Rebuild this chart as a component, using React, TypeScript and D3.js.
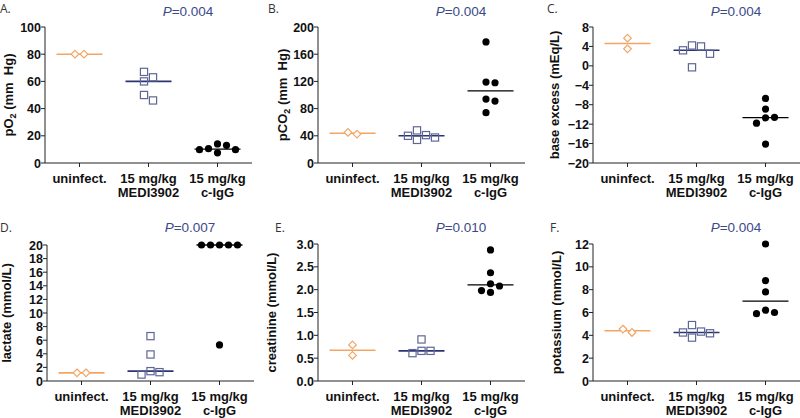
import React from "react";
import * as d3 from "d3";

// group labels (two lines under each column)
const groupLine1 = ["uninfect.", "15 mg/kg", "15 mg/kg"];
const groupLine2 = ["", "MEDI3902", "c-IgG"];

// A. pO2 (mm Hg)
const po2Uninf = [80, 80];
const po2Medi = [63, 46, 60, 50, 67];
const po2Cigg = [13, 9.8, 7.5, 9.8, 10.5, 14];
const po2Ticks = [0, 20, 40, 60, 80, 100];

// B. pCO2 (mm Hg)
const pco2Uninf = [42.5, 45];
const pco2Medi = [48, 40, 34, 37.5, 41];
const pco2Cigg = [118, 94, 178, 74, 119, 91];
const pco2Ticks = [0, 40, 80, 120, 160, 200];

// C. base excess (mEq/L)
const beUninf = [3.5, 5.7];
const beMedi = [4.2, 3.2, -0.3, 2.5, 4.0];
const beCigg = [-10.7, -6.7, -8.9, -11.8, -16.1, -10.6];
const beTicks = [-20, -16, -12, -8, -4, 0, 4, 8];

// D. lactate (mmol/L)
const lacUninf = [1.2, 1.2];
const lacMedi = [1.45, 0.95, 3.9, 6.6, 1.3];
const lacCigg = [20, 20, 20, 20, 20, 5.3];
const lacTicks = [0, 2, 4, 6, 8, 10, 12, 14, 16, 18, 20];

// E. creatinine (mmol/L)
const creUninf = [0.79, 0.56];
const creMedi = [0.66, 0.91, 0.61, 0.66];
const creCigg = [2.08, 2.87, 2.37, 1.94, 1.98, 2.13];
const creTicks = [0, 0.5, 1, 1.5, 2, 2.5, 3];

// F. potassium (mmol/L)
const kUninf = [4.25, 4.55];
const kMedi = [4.25, 3.8, 4.9, 4.18, 4.33];
const kCigg = [6.2, 12, 8.8, 7.8, 5.9, 6.0];
const kTicks = [0, 2, 4, 6, 8, 10, 12];

const pValues = ["0.004", "0.004", "0.004", "0.007", "0.010", "0.004"];

const FONT = "'Liberation Sans', Arial, sans-serif";
const ORANGE = "#f2a565";
const SQUARE = "#5f6796";
const NAVY = "#2c3474";
const PBLUE = "#3b4a8a";

const panels = [
  { letter: "A.", title: ["pO", "2", " (mm  Hg)"], groups: [po2Uninf, po2Medi, po2Cigg], ticks: po2Ticks, fmt: d3.format("d"), p: pValues[0],
    x0: 45, top: 27, bottom: 163, titleX: 13, letterX: 0, letterY: 13, pY: 16 },
  { letter: "B.", title: ["pCO", "2", " (mm  Hg)"], groups: [pco2Uninf, pco2Medi, pco2Cigg], ticks: pco2Ticks, fmt: d3.format("d"), p: pValues[1],
    x0: 318, top: 27, bottom: 163, titleX: 287, letterX: 268, letterY: 13, pY: 16 },
  { letter: "C.", title: ["base excess (mEq/L)"], groups: [beUninf, beMedi, beCigg], ticks: beTicks, fmt: d3.format("d"), p: pValues[2],
    x0: 593, top: 27, bottom: 163, titleX: 559, letterX: 547, letterY: 13, pY: 16 },
  { letter: "D.", title: ["lactate (mmol/L)"], groups: [lacUninf, lacMedi, lacCigg], ticks: lacTicks, fmt: d3.format("d"), p: pValues[3],
    x0: 47, top: 245, bottom: 381, titleX: 11, letterX: 0, letterY: 232, pY: 232 },
  { letter: "E.", title: ["creatinine (mmol/L)"], groups: [creUninf, creMedi, creCigg], ticks: creTicks, fmt: d3.format(".1f"), p: pValues[4],
    x0: 318, top: 244, bottom: 381, titleX: 276, letterX: 275, letterY: 232, pY: 232 },
  { letter: "F.", title: ["potassium (mmol/L)"], groups: [kUninf, kMedi, kCigg], ticks: kTicks, fmt: d3.format("d"), p: pValues[5],
    x0: 593, top: 244, bottom: 381, titleX: 561, letterX: 550, letterY: 232, pY: 232 },
];

const WIDTH = 207;
const STEP = 9;
const MIN_DIST = 8.5;

// simple beeswarm: highest values first, each point takes the nearest free slot
function swarm(values: number[], y: (v: number) => number) {
  const order = values.map((v, i) => i).sort((a, b) => values[b] - values[a]);
  const placed: { i: number; dx: number; py: number }[] = [];
  for (const i of order) {
    const py = y(values[i]);
    for (let k = 0; k < 20; k++) {
      const dx = k === 0 ? 0 : (k % 2 ? 1 : -1) * Math.ceil(k / 2) * STEP;
      const hit = placed.some((p) => Math.hypot(p.dx - dx, p.py - py) < MIN_DIST);
      if (!hit) {
        placed.push({ i, dx, py });
        break;
      }
    }
  }
  const lo = d3.min(placed, (p) => p.dx) ?? 0;
  const hi = d3.max(placed, (p) => p.dx) ?? 0;
  const shift = (lo + hi) / 2;
  return placed.map((p) => ({ dx: p.dx - shift, py: p.py }));
}

const Marker = ({ kind, x, y }: { kind: number; x: number; y: number }) => {
  if (kind === 0) {
    const r = 3.8;
    return (
      <path d={`M${x},${y - r}L${x + r},${y}L${x},${y + r}L${x - r},${y}Z`}
        fill="#fff" stroke={ORANGE} strokeWidth={1.2} />
    );
  }
  if (kind === 1) {
    return <rect x={x - 3.6} y={y - 3.6} width={7.2} height={7.2} fill="none" stroke={SQUARE} strokeWidth={1.2} />;
  }
  return <circle cx={x} cy={y} r={3.6} fill="#000" />;
};

const lineColors = [ORANGE, NAVY, "#000"];

const Panel = ({ cfg }: { cfg: (typeof panels)[number] }) => {
  const y = d3
    .scaleLinear()
    .domain([cfg.ticks[0], cfg.ticks[cfg.ticks.length - 1]])
    .range([cfg.bottom, cfg.top]);
  const x = d3.scalePoint<number>().domain([0, 1, 2]).range([cfg.x0, cfg.x0 + WIDTH]).padding(0.5);
  const midY = (cfg.top + cfg.bottom) / 2;

  return (
    <g>
      <text x={cfg.letterX} y={cfg.letterY} fontFamily="'Open Sans', sans-serif" fontSize={12} fill="#333">
        {cfg.letter}
      </text>
      <text x={cfg.x0 + 143} y={cfg.pY} textAnchor="middle" fontFamily={FONT} fontSize={13.5} fill={PBLUE}>
        <tspan fontStyle="italic">P</tspan>={cfg.p}
      </text>

      {/* y axis */}
      <line x1={cfg.x0} x2={cfg.x0} y1={cfg.top} y2={cfg.bottom} stroke="#222" strokeWidth={1} />
      {cfg.ticks.map((t) => (
        <g key={t}>
          <line x1={cfg.x0 - 4} x2={cfg.x0} y1={y(t)} y2={y(t)} stroke="#222" />
          <text x={cfg.x0 - 4} y={y(t)} dy="0.36em" textAnchor="end" fontFamily={FONT} fontWeight="bold" fontSize={12.5} fill="#111">
            {cfg.fmt(t)}
          </text>
        </g>
      ))}
      <text transform={`translate(${cfg.titleX},${midY}) rotate(-90)`} textAnchor="middle" fontFamily={FONT}
        fontWeight="bold" fontSize={13} fill="#111">
        {cfg.title.length === 3 ? (
          <>
            <tspan>{cfg.title[0]}</tspan>
            <tspan fontSize={9} dy={3}>{cfg.title[1]}</tspan>
            <tspan dy={-3} style={{ whiteSpace: "pre" }}>{cfg.title[2]}</tspan>
          </>
        ) : (
          cfg.title[0]
        )}
      </text>

      {/* x axis */}
      <line x1={cfg.x0} x2={cfg.x0 + WIDTH} y1={cfg.bottom} y2={cfg.bottom} stroke="#222" />
      {[0, 1, 2].map((g) => (
        <g key={g}>
          <line x1={x(g)} x2={x(g)} y1={cfg.bottom} y2={cfg.bottom + 4} stroke="#222" />
          <text x={x(g)} y={cfg.bottom + 20} textAnchor="middle" fontFamily={FONT} fontWeight="bold" fontSize={13} fill="#111">
            {groupLine1[g]}
          </text>
          <text x={x(g)} y={cfg.bottom + 34} textAnchor="middle" fontFamily={FONT} fontWeight="bold" fontSize={13} fill="#111">
            {groupLine2[g]}
          </text>
        </g>
      ))}

      {/* medians and points */}
      {cfg.groups.map((vals, g) => {
        const cx = x(g) as number;
        const m = d3.median(vals) as number;
        const pts = swarm(vals, y);
        return (
          <g key={g}>
            <line x1={cx - 23} x2={cx + 23} y1={y(m)} y2={y(m)} stroke={lineColors[g]} strokeWidth={g === 2 ? 1.3 : 1.6} />
            {pts.map((p, i) => (
              <Marker key={i} kind={g} x={cx + p.dx} y={p.py} />
            ))}
          </g>
        );
      })}
    </g>
  );
};

export default function App() {
  return (
    <svg width={800} height={418} style={{ position: "absolute", left: 0, top: 0, background: "#fff" }}>
      {panels.map((p) => (
        <Panel key={p.letter} cfg={p} />
      ))}
    </svg>
  );
}
